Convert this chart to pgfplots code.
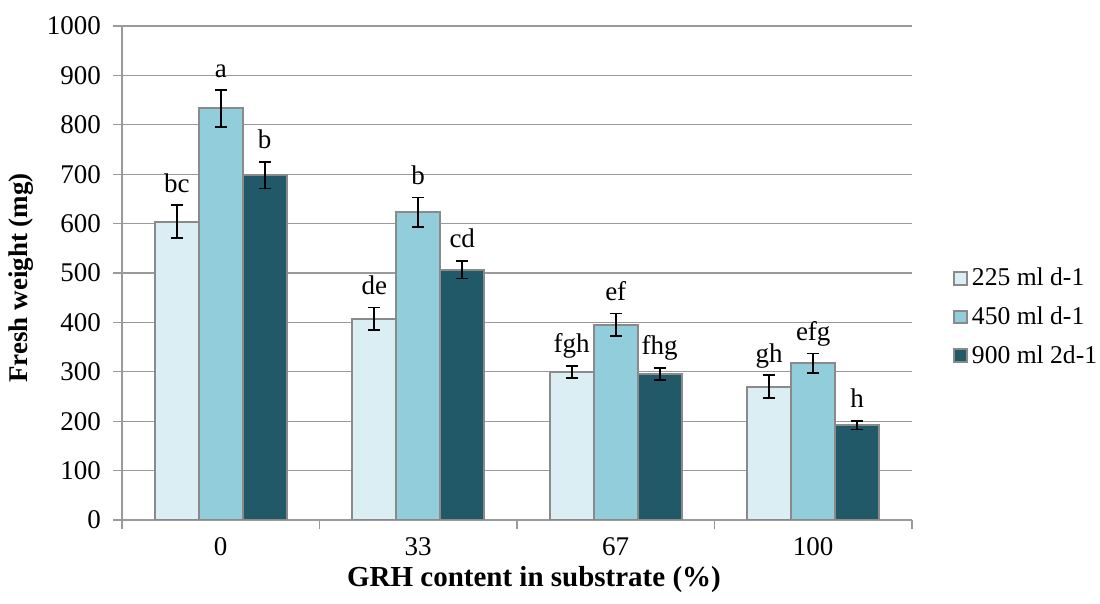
\documentclass[border=0pt]{standalone}
\usepackage{fontspec}
\setmainfont{Liberation Serif}
\usepackage{pgfplots}
\pgfplotsset{compat=1.18}
\usepackage{pgfplotstable}

\definecolor{cA}{HTML}{DAEEF3}
\definecolor{cB}{HTML}{92CDDC}
\definecolor{cC}{HTML}{215968}
\definecolor{edge}{HTML}{8A8A8A}
\definecolor{gridc}{HTML}{9A9A9A}

\pgfplotstableread{
x y err lab
0 604 33 bc
1 407 23 de
2 300 12 fgh
3 270 23 gh
}\tA
\pgfplotstableread{
x y err lab
0 833 37 a
1 623 30 b
2 395 23 ef
3 317 20 efg
}\tB
\pgfplotstableread{
x y err lab
0 698 27 b
1 507 18 cd
2 296 12 fhg
3 192 9 h
}\tC

\begin{document}
\begin{tikzpicture}
\path[use as bounding box] (-61pt,-42pt) rectangle (489pt,260pt);
\begin{axis}[
  scale only axis,
  width=395pt, height=247pt,
  font=\fontsize{13.5}{16}\selectfont,
  ybar=0pt, bar width=22pt,
  xmin=-0.5, xmax=3.5,
  ymin=0, ymax=1000,
  ytick={0,100,...,1000},
  xtick={0,1,2,3},
  xticklabels={0,33,67,100},
  minor xtick={-0.5,0.5,1.5,2.5,3.5},
  major x tick style={draw=none},
  minor x tick style={draw=gridc, line width=0.6pt},
  major y tick style={draw=gridc, line width=0.6pt},
  tick align=outside,
  major tick length=4.5pt,
  minor tick length=4.5pt,
  axis x line*=bottom,
  axis y line*=left,
  axis line style={draw=gridc, line width=0.6pt, -},
  ymajorgrids,
  grid style={draw=gridc, line width=0.6pt},
  /pgf/number format/assume math mode=true,
  /pgf/number format/1000 sep={},
  yticklabel style={xshift=-2.5pt},
  xticklabel style={anchor=base, yshift=-13.5pt, inner sep=0pt},
  xlabel={\textbf{GRH content in substrate (\%)}},
  ylabel={\textbf{Fresh weight (mg)}},
  xlabel style={at={(axis description cs:0.5215,-0.134)}, anchor=base, inner sep=0pt,
    font=\fontsize{14.5}{16}\selectfont},
  ylabel style={at={(axis description cs:-0.1278,0.49)}, anchor=center, inner sep=0pt},
  legend style={at={(axis description cs:1.044,0.411)}, anchor=west, draw=none,
    font=\fontsize{12.8}{15}\selectfont, row sep=5pt,
    /tikz/every even column/.append style={column sep=1pt}},
  legend cell align=left,
  legend image code/.code={\draw[#1, line width=1pt] (0pt,-3.2pt) rectangle (6.4pt,3.2pt);},
  error bars/error bar style={black, line width=0.9pt},
  error bars/error mark options={black, rotate=90, mark size=3pt, line width=0.9pt},
  point meta=explicit symbolic,
  nodes near coords,
  visualization depends on={\thisrow{err} \as \err},
  nodes near coords style={anchor=base, yshift=\err*0.247pt+6.5pt, black, inner sep=0pt},
]
\addplot[fill=cA, draw=edge, line width=1pt, error bars/.cd, y dir=both, y explicit]
  table[x=x, y=y, y error=err, meta=lab] {\tA};
\addplot[fill=cB, draw=edge, line width=1pt, error bars/.cd, y dir=both, y explicit]
  table[x=x, y=y, y error=err, meta=lab] {\tB};
\addplot[fill=cC, draw=edge, line width=1pt, error bars/.cd, y dir=both, y explicit]
  table[x=x, y=y, y error=err, meta=lab] {\tC};
\legend{225 ml d-1, 450 ml d-1, 900 ml 2d-1}
\end{axis}
\end{tikzpicture}
\end{document}
